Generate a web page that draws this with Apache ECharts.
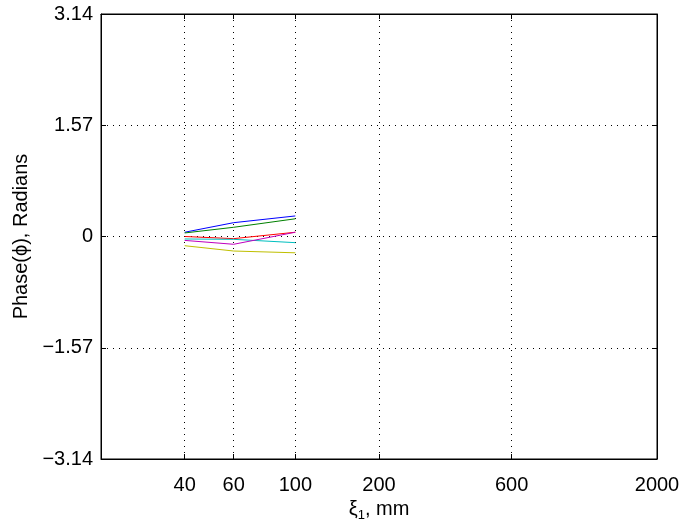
<!DOCTYPE html>
<html>
<head>
<meta charset="utf-8">
<script src="https://cdn.jsdelivr.net/npm/echarts@6/dist/echarts.min.js"></script>
<style>
html,body{margin:0;padding:0;background:#fff;}
#chart{width:686px;height:523px;}
</style>
</head>
<body>
<div id="chart"></div>
<script>
const xValues = [40, 60, 100];
const xTickValues = [40, 60, 100, 200, 600, 2000];
const yTickValues = [-3.14, -1.57, 0, 1.57, 3.14];
const seriesBlue = [0.06, 0.195, 0.29];
const seriesGreen = [0.05, 0.13, 0.25];
const seriesRed = [0.0, -0.03, 0.06];
const seriesCyan = [-0.035, -0.04, -0.087];
const seriesMagenta = [-0.055, -0.11, 0.06];
const seriesYellow = [-0.13, -0.205, -0.23];

const seriesList = [
  {name: 'blue', data: seriesBlue, color: '#0000ff'},
  {name: 'green', data: seriesGreen, color: '#008000'},
  {name: 'red', data: seriesRed, color: '#ff0000'},
  {name: 'cyan', data: seriesCyan, color: '#00bfbf'},
  {name: 'magenta', data: seriesMagenta, color: '#bf00bf'},
  {name: 'yellow', data: seriesYellow, color: '#bfbf00'}
];

const font = 'Liberation Sans, Arial, Helvetica, sans-serif';
const FS = 20;
const fmtY = v => {
  const r = Math.round(v * 100) / 100;
  if (r === 0) return '0';
  return (r < 0 ? '\u2212' : '') + Math.abs(r).toFixed(2);
};

const chart = echarts.init(document.getElementById('chart'));
chart.setOption({
  animation: false,
  backgroundColor: '#fff',
  grid: {left: 101, right: 29, top: 14, bottom: 64, show: true, borderColor: '#000', borderWidth: 1, containLabel: false, outerBoundsMode: 'none'},
  xAxis: [{
    type: 'log', logBase: 10, min: 20, max: 2000,
    name: '{a|\u03be}{s|1}{a|, mm}', nameLocation: 'middle', nameGap: 33,
    nameTextStyle: {rich: {a: {fontSize: FS, fontFamily: font, color: '#000'}, s: {fontSize: 13, fontFamily: font, color: '#000', verticalAlign: 'bottom', padding: [12, 0, 0, 0]}}},
    axisLine: {show: true, onZero: false, lineStyle: {color: '#000', width: 1}},
    axisTick: {show: true, inside: true, length: 5, customValues: xTickValues, lineStyle: {color: '#000'}},
    axisLabel: {customValues: xTickValues, fontSize: FS, fontFamily: font, color: '#000', margin: 16, formatter: v => String(Math.round(v))},
    splitLine: {show: true, lineStyle: {color: '#000', width: 1, type: [1, 5]}},
    minorTick: {show: false}, minorSplitLine: {show: false}
  }, {
    type: 'log', logBase: 10, min: 20, max: 2000, position: 'top',
    axisLine: {show: true, onZero: false, lineStyle: {color: '#000'}},
    axisTick: {show: true, inside: true, length: 5, customValues: xTickValues, lineStyle: {color: '#000'}},
    axisLabel: {show: false, customValues: xTickValues},
    splitLine: {show: false}
  }],
  yAxis: [{
    type: 'value', min: -3.14, max: 3.14, interval: 1.57,
    name: 'Phase(\u03d5), Radians', nameLocation: 'middle', nameGap: 68,
    nameTextStyle: {fontSize: FS, fontFamily: font, color: '#000'},
    axisLine: {show: true, onZero: false, lineStyle: {color: '#000', width: 1}},
    axisTick: {show: true, inside: true, length: 5, lineStyle: {color: '#000'}},
    axisLabel: {fontSize: FS, fontFamily: font, color: '#000', margin: 8, formatter: fmtY},
    splitLine: {show: true, lineStyle: {color: '#000', width: 1, type: [1, 5]}}
  }, {
    type: 'value', min: -3.14, max: 3.14, interval: 1.57, position: 'right',
    axisLine: {show: true, onZero: false, lineStyle: {color: '#000'}},
    axisTick: {show: true, inside: true, length: 5, lineStyle: {color: '#000'}},
    axisLabel: {show: false},
    splitLine: {show: false}
  }],
  series: seriesList.map(s => ({
    name: s.name, type: 'line', xAxisIndex: 0, yAxisIndex: 0,
    data: xValues.map((x, i) => [x, s.data[i]]),
    showSymbol: false, symbol: 'none',
    lineStyle: {color: s.color, width: 1}, itemStyle: {color: s.color}
  }))
});
</script>
</body>
</html>
